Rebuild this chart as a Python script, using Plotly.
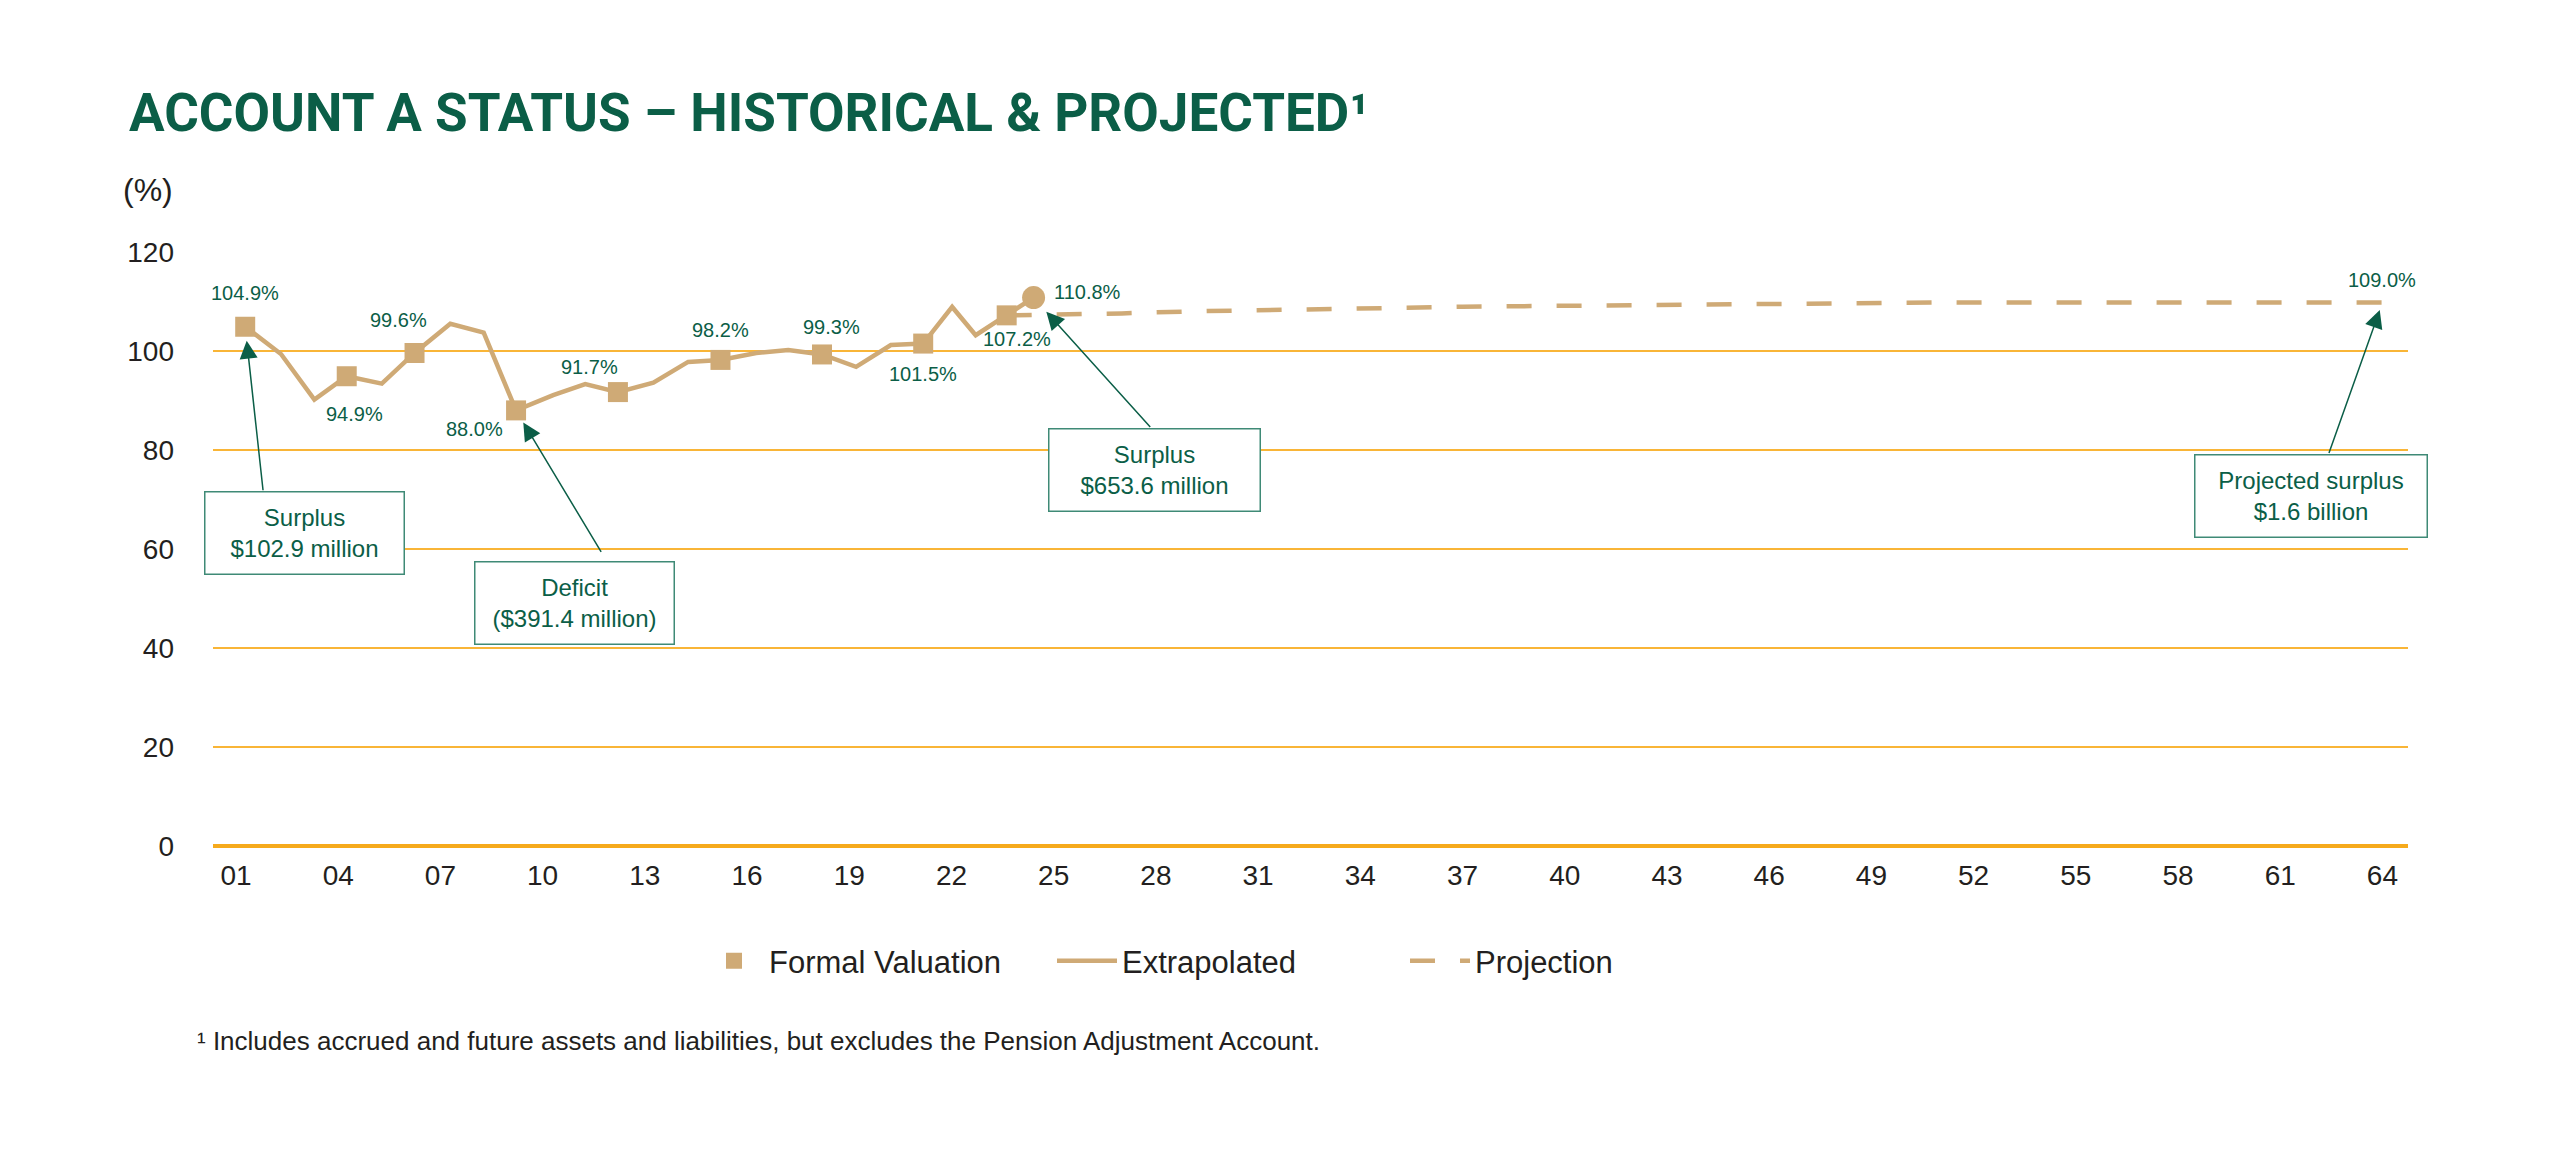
import plotly.graph_objects as go

# ---------------- data ----------------
fv_years = [2001.27, 2004.25, 2006.24, 2009.22, 2012.21, 2015.22, 2018.20, 2021.17, 2023.62]
fv_values = [104.9, 94.9, 99.6, 88.0, 91.7, 98.2, 99.3, 101.5, 107.2]

ext_years = [2001.27, 2002.32, 2003.30, 2004.25, 2005.28, 2006.24, 2007.29, 2008.27, 2009.22,
             2010.31, 2011.25, 2012.21, 2013.25, 2014.27, 2015.22, 2016.27, 2017.21, 2018.20,
             2019.20, 2020.22, 2021.17, 2022.02, 2022.71, 2023.62, 2024.41]
ext_values = [104.9, 99.4, 90.2, 94.9, 93.4, 99.6, 105.5, 103.7, 88.0,
              91.1, 93.3, 91.7, 93.6, 97.8, 98.2, 99.6, 100.2, 99.3,
              96.8, 101.2, 101.5, 108.9, 103.2, 107.2, 110.8]

latest_years = [2024.41]
latest_values = [110.8]

proj_years = [2023.62, 2025, 2027, 2029, 2031, 2033, 2035, 2037, 2039, 2041, 2043, 2045,
              2047, 2049, 2051, 2064]
proj_values = [107.2, 107.3, 107.6, 108.0, 108.3, 108.5, 108.7, 108.95, 109.05, 109.25,
               109.4, 109.5, 109.65, 109.75, 109.8, 109.8]
proj_end_label = 109.0

tick_years = [2001, 2004, 2007, 2010, 2013, 2016, 2019, 2022, 2025, 2028, 2031, 2034,
              2037, 2040, 2043, 2046, 2049, 2052, 2055, 2058, 2061, 2064]
tick_labels = ["01", "04", "07", "10", "13", "16", "19", "22", "25", "28", "31", "34",
               "37", "40", "43", "46", "49", "52", "55", "58", "61", "64"]

callout_texts = ["Surplus<br>$102.9 million", "Deficit<br>($391.4 million)",
                 "Surplus<br>$653.6 million", "Projected surplus<br>$1.6 billion"]

# ---------------- styles ----------------
TAN = "#cfaa76"
GREEN = "#0b5e47"
BOXGREEN = "#3f8a76"
GRID = "#f9b537"
DARK = "#231f20"
FONT = "Liberation Sans, Arial, sans-serif"

OFF = 8  # default page body margin
W, H = 2550 - 2 * OFF, 1165 - 2 * OFF
ML, MT = 213 - OFF, 252 - OFF
PW, PH = 2195, 594

fig = go.Figure()

fig.add_trace(go.Scatter(x=ext_years, y=ext_values, mode="lines", name="Extrapolated",
                         line=dict(color=TAN, width=4.5), legendrank=2, cliponaxis=False))
fig.add_trace(go.Scatter(x=proj_years, y=proj_values, mode="lines", name="Projection",
                         line=dict(color=TAN, width=4.5, dash="25px,25px"), legendrank=3,
                         cliponaxis=False))
fig.add_trace(go.Scatter(x=fv_years, y=fv_values, mode="markers", name="Formal Valuation",
                         marker=dict(symbol="square", size=20, color=TAN), legendrank=1,
                         cliponaxis=False))
fig.add_trace(go.Scatter(x=latest_years, y=latest_values, mode="markers", showlegend=False,
                         marker=dict(symbol="circle", size=23, color=TAN), cliponaxis=False))

# data labels (offsets in px)
label_offsets = [(0, 34), (8, -38), (-16, 33), (-42, -19), (-28, 25), (0, 30), (9, 27),
                 (0, -30), (10, -24)]
for xv, yv, (dx, dy) in zip(fv_years, fv_values, label_offsets):
    fig.add_annotation(x=xv, y=yv, text=f"{yv:.1f}%", showarrow=False, xshift=dx, yshift=dy,
                       font=dict(family=FONT, size=20, color=GREEN))
fig.add_annotation(x=latest_years[0], y=latest_values[0], text=f"{latest_values[0]:.1f}%",
                   showarrow=False, xshift=54, yshift=6,
                   font=dict(family=FONT, size=20, color=GREEN))
fig.add_annotation(x=proj_years[-1], y=proj_values[-1], text=f"{proj_end_label:.1f}%",
                   showarrow=False, xshift=0, yshift=22,
                   font=dict(family=FONT, size=20, color=GREEN))

# callout arrows: (target x, target y, ax, ay, standoff)
arrow_targets = [
    (fv_years[0], fv_values[0], 18, 165, 14),
    (fv_years[3], fv_values[3], 86, 143, 14),
    (latest_years[0], latest_values[0], 118, 131, 19),
    (proj_years[-1], proj_values[-1], -54, 152, 8),
]
for (tx, ty, ax, ay, so) in arrow_targets:
    fig.add_annotation(x=tx, y=ty, ax=ax, ay=ay, text="", showarrow=True,
                       arrowhead=2, arrowsize=2.4, arrowwidth=1.5, arrowcolor=GREEN,
                       standoff=so)

# callout boxes: (center x, center y, width, height)
box_specs = [(2003.01, 63.3, 198, 81), (2010.93, 49.0, 198, 81),
             (2027.97, 75.9, 210, 81), (2061.89, 70.8, 231, 81)]
for txt, (bx, by, bw, bh) in zip(callout_texts, box_specs):
    fig.add_annotation(x=bx, y=by, text=txt, showarrow=False, width=bw, height=bh,
                       bordercolor=BOXGREEN, borderwidth=1.5, borderpad=0, bgcolor="white",
                       align="center", valign="middle",
                       font=dict(family=FONT, size=24, color=GREEN))

# (%) label
fig.add_annotation(xref="paper", yref="paper", x=(148 - 213) / PW, y=(846.3 - 190) / PH,
                   text="(%)", showarrow=False, xanchor="center", yanchor="middle",
                   font=dict(family=FONT, size=32, color=DARK))

# footnote
fig.add_annotation(xref="paper", yref="paper", x=(195 - 213) / PW, y=(846.3 - 1041) / PH,
                   text="¹ Includes accrued and future assets and liabilities, but excludes the Pension Adjustment Account.",
                   showarrow=False, xanchor="left", yanchor="middle",
                   font=dict(family=FONT, size=26, color=DARK))

fig.update_layout(
    width=W, height=H,
    margin=dict(l=ML, r=W - ML - PW, t=MT, b=H - MT - PH, pad=0),
    paper_bgcolor="white", plot_bgcolor="white",
    title=dict(text="ACCOUNT A STATUS – HISTORICAL & PROJECTED¹",
               xref="container", yref="container", x=(129 - OFF) / W, xanchor="left",
               y=1 - (112 - OFF) / H, yanchor="middle",
               font=dict(family="Roboto, Liberation Sans, sans-serif",
                         size=53, color=GREEN, weight=700)),
    xaxis=dict(range=[2000.325, 2064.75], tickmode="array", tickvals=tick_years,
               ticktext=tick_labels, showgrid=False, zeroline=False, showline=False,
               ticks="", ticklabelstandoff=10,
               tickfont=dict(family=FONT, size=28, color=DARK)),
    yaxis=dict(range=[0, 120], tickmode="array", tickvals=[0, 20, 40, 60, 80, 100, 120],
               showgrid=True, gridcolor=GRID, gridwidth=2, zeroline=True,
               zerolinecolor="#f6aa1c", zerolinewidth=3.5, showline=False, ticks="",
               ticklabelstandoff=38, tickfont=dict(family=FONT, size=28, color=DARK)),
    legend=dict(orientation="h", x=(691 - 205) / PW, xanchor="left",
                y=(846.3 - 961.5) / PH, yanchor="middle",
                font=dict(family=FONT, size=31, color=DARK), itemwidth=60,
                entrywidth=278, entrywidthmode="pixels",
                traceorder="normal", bgcolor="rgba(0,0,0,0)"),
    showlegend=True,
)

fig.write_html("out.html")
